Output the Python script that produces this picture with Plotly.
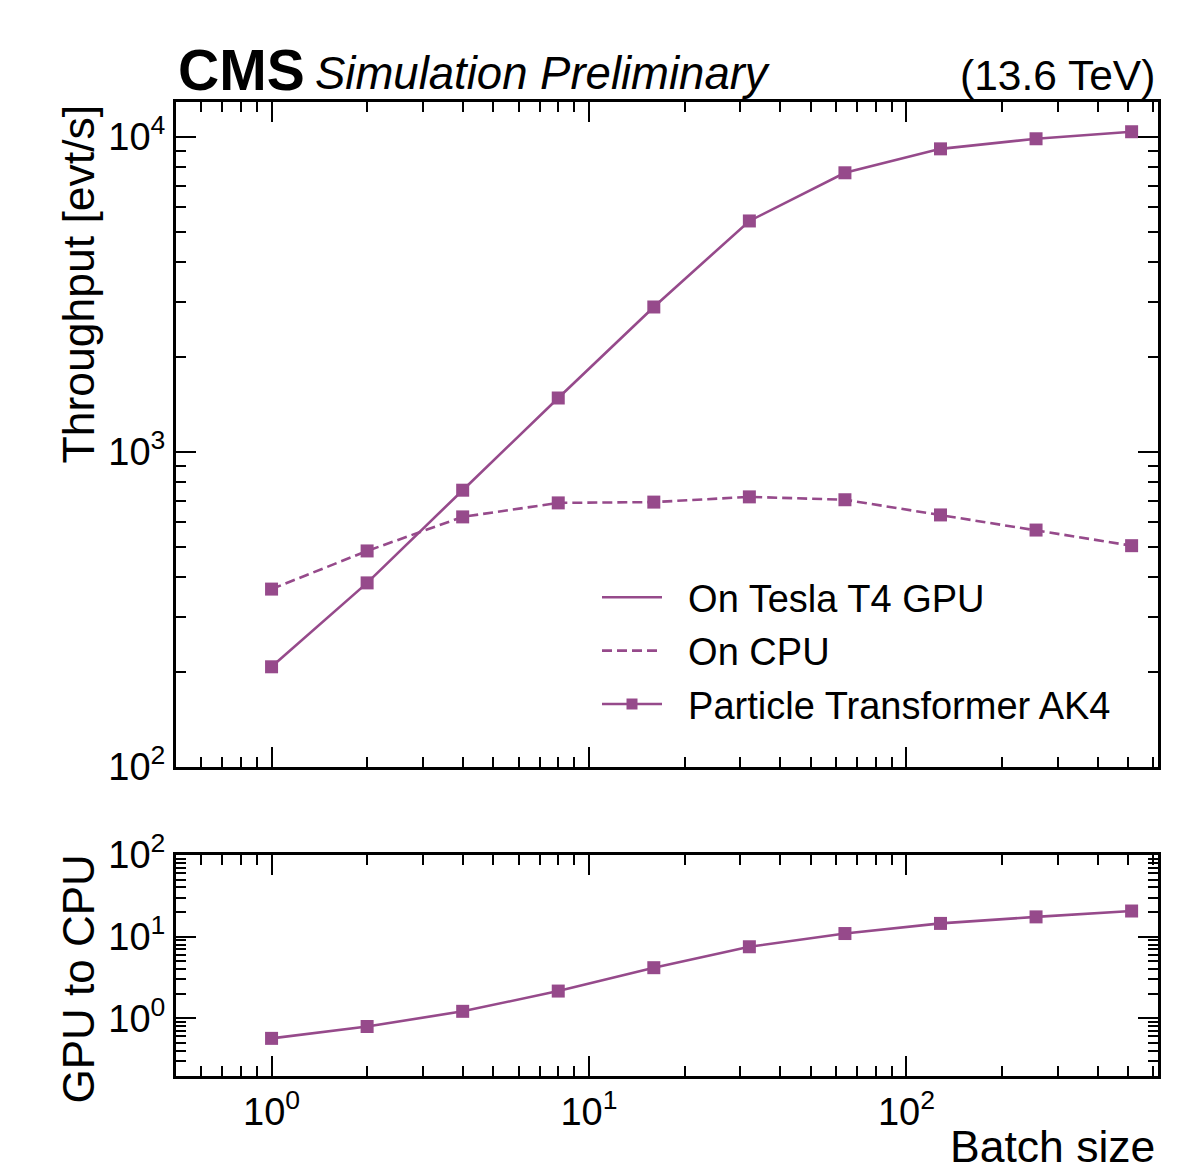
import numpy as np
import plotly.graph_objects as go

# ---- data ----
batch_size = [1, 2, 4, 8, 16, 32, 64, 128, 256, 512]
gpu_throughput = [208, 384, 756, 1483, 2884, 5408, 7690, 9160, 9860, 10380]
cpu_throughput = [367, 485, 622, 689, 693, 720, 705, 631, 565, 504]
ratio = [g / c for g, c in zip(gpu_throughput, cpu_throughput)]

legend_labels = ["On Tesla T4 GPU", "On CPU", "Particle Transformer AK4"]
x_tickvals = [1, 10, 100]
x_ticktext = ["10<sup>0</sup>", "10<sup>1</sup>", "10<sup>2</sup>"]
y1_tickvals = [100, 1000, 10000]
y1_ticktext = ["10<sup>2</sup>", "10<sup>3</sup>", "10<sup>4</sup>"]
y2_tickvals = [1, 10, 100]
y2_ticktext = ["10<sup>0</sup>", "10<sup>1</sup>", "10<sup>2</sup>"]

COLOR = "#964a8b"
FONT = "Liberation Sans"
PAD = "\u00a0\u00a0"

def minor_vals(lo_exp, hi_exp):
    vals = []
    for e in range(lo_exp, hi_exp + 1):
        for m in range(2, 10):
            vals.append(m * 10.0 ** e)
    return vals

x_minor = [v for v in minor_vals(-1, 2) if 0.5 <= v <= 620]
y1_minor = [v for v in minor_vals(2, 4) if 100 <= v <= 13000]
y2_minor = [v for v in minor_vals(-1, 1) if 0.19 <= v <= 100]

fig = go.Figure()

# main data traces
fig.add_trace(go.Scatter(x=batch_size, y=gpu_throughput, mode="lines+markers",
                         line=dict(color=COLOR, width=2.6),
                         marker=dict(symbol="square", size=13, color=COLOR),
                         showlegend=False, xaxis="x", yaxis="y"))
fig.add_trace(go.Scatter(x=batch_size, y=cpu_throughput, mode="lines+markers",
                         line=dict(color=COLOR, width=2.6, dash="10px,5px"),
                         marker=dict(symbol="square", size=13, color=COLOR),
                         showlegend=False, xaxis="x", yaxis="y"))
fig.add_trace(go.Scatter(x=batch_size, y=ratio, mode="lines+markers",
                         line=dict(color=COLOR, width=2.6),
                         marker=dict(symbol="square", size=13, color=COLOR),
                         showlegend=False, xaxis="x2", yaxis="y2"))

# legend entries
fig.add_trace(go.Scatter(x=[None], y=[None], mode="lines", name=PAD + legend_labels[0],
                         legendgroup="a",
                         line=dict(color=COLOR, width=2.6), xaxis="x", yaxis="y"))
fig.add_trace(go.Scatter(x=[None], y=[None], mode="lines", name=PAD + legend_labels[1],
                         legendgroup="b",
                         line=dict(color=COLOR, width=2.6, dash="10px,5px"), xaxis="x", yaxis="y"))
fig.add_trace(go.Scatter(x=[None], y=[None], mode="lines+markers", name=PAD + legend_labels[2],
                         legendgroup="c",
                         line=dict(color=COLOR, width=2.6),
                         marker=dict(symbol="square", size=11, color=COLOR),
                         xaxis="x", yaxis="y"))

L, R, T, B = 176, 45, 102, 94
W, H = 1203, 1170
PW, PH = W - L - R, H - T - B

def py(pix):
    return (H - B - pix) / PH

def px(pix):
    return (pix - L) / PW

axis_common = dict(showgrid=False, zeroline=False, showline=True, linecolor="black",
                   linewidth=3, mirror="allticks", ticks="inside", ticklen=20,
                   tickwidth=1.8, tickcolor="black",
                   tickfont=dict(family=FONT, size=38, color="black"))
minor_common = dict(ticks="inside", ticklen=10, tickwidth=1.5, tickcolor="black", showgrid=False)

xrange = [np.log10(0.5), np.log10(620)]

fig.update_layout(
    width=W, height=H,
    margin=dict(l=L, r=R, t=T, b=B),
    paper_bgcolor="white", plot_bgcolor="white",
    font=dict(family=FONT, color="black"),
    xaxis=dict(type="log", range=xrange, anchor="y", domain=[0, 1],
               tickvals=x_tickvals, ticktext=x_ticktext, showticklabels=False,
               minor=dict(tickvals=x_minor, **minor_common), **axis_common),
    yaxis=dict(type="log", range=[2, np.log10(12900)], anchor="x", domain=[py(767), 1],
               tickvals=y1_tickvals, ticktext=y1_ticktext,
               minor=dict(tickvals=y1_minor, **minor_common), **axis_common),
    xaxis2=dict(type="log", range=xrange, anchor="y2", domain=[0, 1], matches="x",
                tickvals=x_tickvals, ticktext=x_ticktext,
                minor=dict(tickvals=x_minor, **minor_common), **axis_common),
    yaxis2=dict(type="log", range=[np.log10(0.196), 2], anchor="x2", domain=[0, py(855)],
                tickvals=y2_tickvals, ticktext=y2_ticktext,
                minor=dict(tickvals=y2_minor, **minor_common), **axis_common),
    legend=dict(x=px(597), y=py(566), xanchor="left", yanchor="top",
                bgcolor="rgba(0,0,0,0)", borderwidth=0,
                font=dict(family=FONT, size=38, color="black"),
                itemwidth=60, tracegroupgap=1),
    showlegend=True,
)

annotations = [
    dict(text="<b>CMS</b>", x=px(176), y=py(104), xanchor="left", yanchor="bottom",
         font=dict(family=FONT, size=57, color="black")),
    dict(text="<i>Simulation Preliminary</i>", x=px(313), y=py(101), xanchor="left", yanchor="bottom",
         font=dict(family=FONT, size=45.5, color="black")),
    dict(text="(13.6 TeV)", x=px(1157), y=py(101), xanchor="right", yanchor="bottom",
         font=dict(family=FONT, size=42.5, color="black")),
    dict(text="Throughput [evt/s]", x=px(78), y=py(103), xanchor="center", yanchor="top",
         textangle=-90, font=dict(family=FONT, size=44.5, color="black")),
    dict(text="GPU to CPU", x=px(78), y=py(853), xanchor="center", yanchor="top",
         textangle=-90, font=dict(family=FONT, size=44, color="black")),
    dict(text="Batch size", x=px(1157), y=py(1146), xanchor="right", yanchor="middle",
         font=dict(family=FONT, size=44.5, color="black")),
]
for a in annotations:
    a.update(xref="paper", yref="paper", showarrow=False)
fig.update_layout(annotations=annotations)

fig.write_html("out.html")
